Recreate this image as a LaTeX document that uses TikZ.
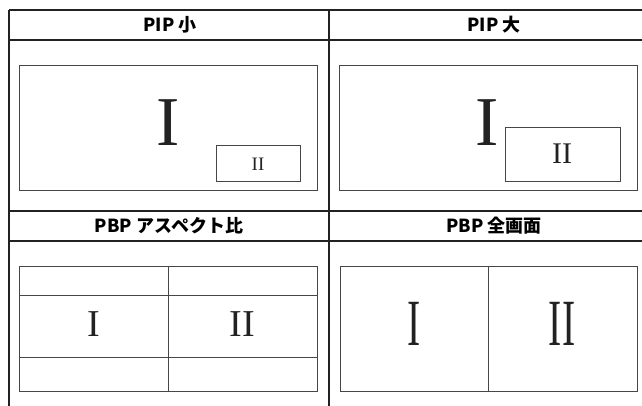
\documentclass[tikz,border=0pt]{standalone}
\usepackage{fontspec}
\setmainfont{Liberation Serif}
\newfontfamily\jpfont{Noto Sans CJK JP}
\definecolor{gridline}{RGB}{34,34,34}
\definecolor{boxline}{RGB}{70,70,70}

\begin{document}
\begin{tikzpicture}[x=1pt,y=-1pt,
  grid/.style={gridline,line width=2.4pt},
  frame/.style={boxline,line width=1pt},
  head/.style={font=\jpfont\bfseries\fontsize{18}{18}\selectfont,inner sep=0pt},
  num/.style={inner sep=0pt,text=gridline}]
  \useasboundingbox (0,0) rectangle (642,406);
  % table
  \draw[grid] (9,10) -- (660,10);
  \draw[grid] (9,40) -- (660,40);
  \draw[grid] (9,211) -- (660,211);
  \draw[grid] (9,241) -- (660,241);
  \draw[grid] (9,10) -- (9,410);
  \draw[grid] (329,10) -- (329,410);
  \node[head] (h1) at (170,25) {PIP 小};
  \node[head] (h2) at (494,25) {PIP 大};
  \node[head] (h3) at (169,226) {PBP アスペクト比};
  \node[head] (h4) at (494,226) {PBP 全画面};
  % PIP small
  \draw[frame] (19,66) rectangle (317,191);
  \draw[frame] (216,146) rectangle (300,182);
  \node[num,font=\fontsize{70}{70}\selectfont] (s1) at (168,123) {I};
  \node[num,font=\fontsize{19}{19}\selectfont] (s2) at (258,164) {II};
  % PIP large
  \draw[frame] (339,66) rectangle (637,191);
  \draw[frame] (505,128) rectangle (620,182);
  \node[num,font=\fontsize{70}{70}\selectfont] (l1) at (487,123) {I};
  \node[num,font=\fontsize{30}{30}\selectfont] (l2) at (562,154) {II};
  % PBP aspect
  \draw[frame] (19,266) rectangle (317,391);
  \draw[frame] (168,266) -- (168,391);
  \draw[frame] (19,295) -- (317,295);
  \draw[frame] (19,357) -- (317,357);
  \node[num,font=\fontsize{38}{38}\selectfont] (a1) at (94,324) {I};
  \node[num,font=\fontsize{38}{38}\selectfont] (a2) at (242,324) {II};
  % PBP full
  \draw[frame] (340,266) rectangle (637,391);
  \draw[frame] (488,266) -- (488,391);
  \node[num,font=\fontsize{66}{66}\selectfont,xscale=0.6] (f1) at (414,324) {I};
  \node[num,font=\fontsize{66}{66}\selectfont,xscale=0.6] (f2) at (562,324) {II};
\end{tikzpicture}
\end{document}
